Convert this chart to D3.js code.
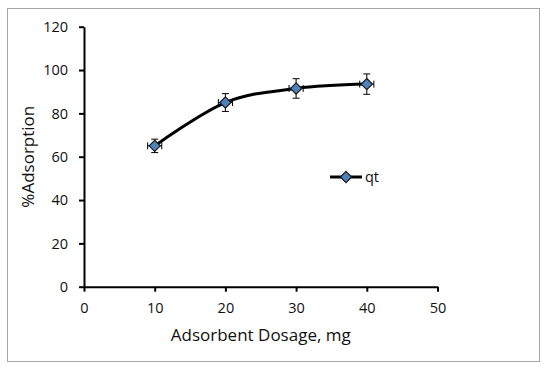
<!DOCTYPE html>
<html>
<head>
<meta charset="utf-8">
<script src="https://cdn.jsdelivr.net/npm/d3@7"></script>
<style>
  body { margin: 0; background: #fff; }
  svg text { font-family: "Open Sans", sans-serif; fill: #111; }
</style>
</head>
<body>
<div id="chart"></div>
<script>
// Data
const dosage = [10, 20, 30, 40];
const adsorption = [65, 85, 91.5, 93.5];
const yErr = [3.1, 4.1, 4.5, 4.7];
const xErr = [1, 1, 1, 1];
const xTicks = [0, 10, 20, 30, 40, 50];
const yTicks = [0, 20, 40, 60, 80, 100, 120];
const seriesName = "qt";

const w = 550, h = 368;
const svg = d3.select("#chart").append("svg")
  .attr("width", w).attr("height", h);

// outer frame
svg.append("rect")
  .attr("x", 7.5).attr("y", 8.5)
  .attr("width", 532).attr("height", 353)
  .attr("fill", "#fff").attr("stroke", "#a6a6a6").attr("stroke-width", 1);

const xScale = d3.scaleLinear().domain([0, 50]).range([84, 437.5]);
const yScale = d3.scaleLinear().domain([0, 120]).range([286.7, 26.7]);

// axes
const xAxis = d3.axisBottom(xScale).tickValues(xTicks).tickSize(5).tickSizeOuter(0);
const gx = svg.append("g").attr("transform", "translate(0," + yScale(0) + ")").call(xAxis);
gx.select(".domain").attr("stroke", "#000").attr("stroke-width", 2);
gx.selectAll(".tick line").attr("stroke", "#000").attr("stroke-width", 2);
gx.selectAll(".tick text").attr("font-size", 14.5).attr("y", 16).attr("dy", "0.71em");

const yAxis = d3.axisLeft(yScale).tickValues(yTicks).tickSize(5).tickSizeOuter(0);
const gy = svg.append("g").attr("transform", "translate(" + xScale(0) + ",0)").call(yAxis);
gy.select(".domain").attr("stroke", "#000").attr("stroke-width", 2);
gy.selectAll(".tick line").attr("stroke", "#000").attr("stroke-width", 2);
gy.selectAll(".tick text").attr("font-size", 14.5).attr("x", -16);

// axis titles
svg.append("text")
  .attr("x", (xScale(0) + xScale(50)) / 2).attr("y", 341)
  .attr("text-anchor", "middle").attr("font-size", 17)
  .text("Adsorbent Dosage, mg");
svg.append("text")
  .attr("transform", "translate(34," + yScale(60) + ") rotate(-90)")
  .attr("text-anchor", "middle").attr("font-size", 17)
  .text("%Adsorption");

const points = dosage.map((d, i) => ({ x: d, y: adsorption[i], ey: yErr[i], ex: xErr[i] }));

// smoothed line
const line = d3.line()
  .x(d => xScale(d.x)).y(d => yScale(d.y))
  .curve(d3.curveCatmullRom.alpha(0));
svg.append("path").datum(points)
  .attr("d", line).attr("fill", "none")
  .attr("stroke", "#000").attr("stroke-width", 3);

// error bars
const eb = svg.append("g").attr("stroke", "#000").attr("stroke-width", 1);
points.forEach(p => {
  const cx = xScale(p.x), cy = yScale(p.y);
  const y1 = yScale(p.y + p.ey), y2 = yScale(p.y - p.ey);
  const x1 = xScale(p.x - p.ex), x2 = xScale(p.x + p.ex);
  eb.append("line").attr("x1", cx).attr("x2", cx).attr("y1", y1).attr("y2", y2);
  eb.append("line").attr("x1", cx - 3.5).attr("x2", cx + 3.5).attr("y1", y1).attr("y2", y1);
  eb.append("line").attr("x1", cx - 3.5).attr("x2", cx + 3.5).attr("y1", y2).attr("y2", y2);
  eb.append("line").attr("x1", x1).attr("x2", x2).attr("y1", cy).attr("y2", cy);
  eb.append("line").attr("x1", x1).attr("x2", x1).attr("y1", cy - 3.5).attr("y2", cy + 3.5);
  eb.append("line").attr("x1", x2).attr("x2", x2).attr("y1", cy - 3.5).attr("y2", cy + 3.5);
});

// diamond markers
const diamond = d3.symbol().type(d3.symbolDiamond2).size(80);
svg.selectAll(".pt").data(points).enter()
  .append("path").attr("class", "pt")
  .attr("d", diamond)
  .attr("transform", d => "translate(" + xScale(d.x) + "," + yScale(d.y) + ")")
  .attr("fill", "#4f81bd").attr("stroke", "#1a1a1a").attr("stroke-width", 1.2);

// legend
const lg = svg.append("g").attr("transform", "translate(330,177)");
lg.append("line").attr("x1", 0).attr("x2", 32).attr("y1", 0).attr("y2", 0)
  .attr("stroke", "#000").attr("stroke-width", 3);
lg.append("path").attr("d", diamond).attr("transform", "translate(16,0)")
  .attr("fill", "#4f81bd").attr("stroke", "#1a1a1a").attr("stroke-width", 1.2);
lg.append("text").attr("x", 35).attr("y", 5).attr("font-size", 14.5).text(seriesName);
</script>
</body>
</html>
